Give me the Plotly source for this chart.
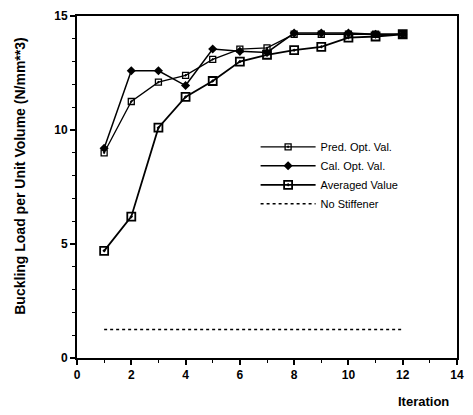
import plotly.graph_objects as go

iterations = [1, 2, 3, 4, 5, 6, 7, 8, 9, 10, 11, 12]
pred_opt = [9.0, 11.25, 12.1, 12.4, 13.1, 13.55, 13.6, 14.2, 14.2, 14.2, 14.2, 14.2]
cal_opt = [9.2, 12.6, 12.6, 11.95, 13.55, 13.45, 13.4, 14.25, 14.25, 14.25, 14.2, 14.2]
averaged = [4.7, 6.2, 10.1, 11.45, 12.15, 13.0, 13.3, 13.5, 13.65, 14.05, 14.1, 14.2]
no_stiffener = [1.25, 1.25, 1.25, 1.25, 1.25, 1.25, 1.25, 1.25, 1.25, 1.25, 1.25, 1.25]

FONT = "Liberation Sans"

fig = go.Figure()
fig.add_trace(go.Scatter(
    x=iterations, y=pred_opt, mode="lines+markers", name="Pred. Opt. Val.",
    line=dict(color="black", width=1.3),
    marker=dict(symbol="square-open-dot", size=6, color="black", line=dict(width=1.3)),
))
fig.add_trace(go.Scatter(
    x=iterations, y=cal_opt, mode="lines+markers", name="Cal. Opt. Val.",
    line=dict(color="black", width=1.5),
    marker=dict(symbol="diamond", size=7, color="black"),
))
fig.add_trace(go.Scatter(
    x=iterations, y=averaged, mode="lines+markers", name="Averaged Value",
    line=dict(color="black", width=1.8),
    marker=dict(symbol="square-open-dot", size=8, color="black", line=dict(width=1.8)),
))
fig.add_trace(go.Scatter(
    x=iterations, y=no_stiffener, mode="lines", name="No Stiffener",
    line=dict(color="black", width=1.5, dash="dot"),
))

fig.update_layout(
    width=473, height=415,
    margin=dict(l=77, r=9, t=10, b=57),
    plot_bgcolor="white", paper_bgcolor="white",
    font=dict(family=FONT, color="black", size=11),
    showlegend=True,
    legend=dict(
        x=0.47, y=0.66, xanchor="left", yanchor="top",
        bgcolor="rgba(0,0,0,0)", font=dict(size=11, family=FONT),
        tracegroupgap=0, itemwidth=55,
    ),
    xaxis=dict(
        range=[0, 14], tickvals=[0, 2, 4, 6, 8, 10, 12, 14],
        ticks="outside", ticklen=5, tickwidth=2, tickcolor="black",
        showline=True, linecolor="black", linewidth=2, mirror=True,
        showgrid=False, zeroline=False,
        tickfont=dict(size=12, family=FONT, weight="bold"),
        minor=dict(dtick=1, ticks="outside", ticklen=3, tickcolor="black", tickwidth=1),
    ),
    yaxis=dict(
        range=[0, 15], tickvals=[0, 5, 10, 15],
        ticks="outside", ticklen=5, tickwidth=2, tickcolor="black",
        showline=True, linecolor="black", linewidth=2, mirror=True,
        showgrid=False, zeroline=False,
        tickfont=dict(size=12, family=FONT, weight="bold"),
        minor=dict(dtick=1, ticks="outside", ticklen=3, tickcolor="black", tickwidth=1),
    ),
    annotations=[
        dict(text="Iteration", xref="paper", yref="paper", x=0.985, y=-0.128,
             xanchor="right", yanchor="middle", showarrow=False,
             font=dict(size=13, family=FONT, weight="bold")),
        dict(text="Buckling Load per Unit Volume (N/mm**3)", xref="paper", yref="paper",
             x=-0.15, y=0.53, textangle=-90, xanchor="center", yanchor="middle",
             showarrow=False, font=dict(size=14, family=FONT, weight="bold")),
    ],
)

fig.write_html("out.html")
